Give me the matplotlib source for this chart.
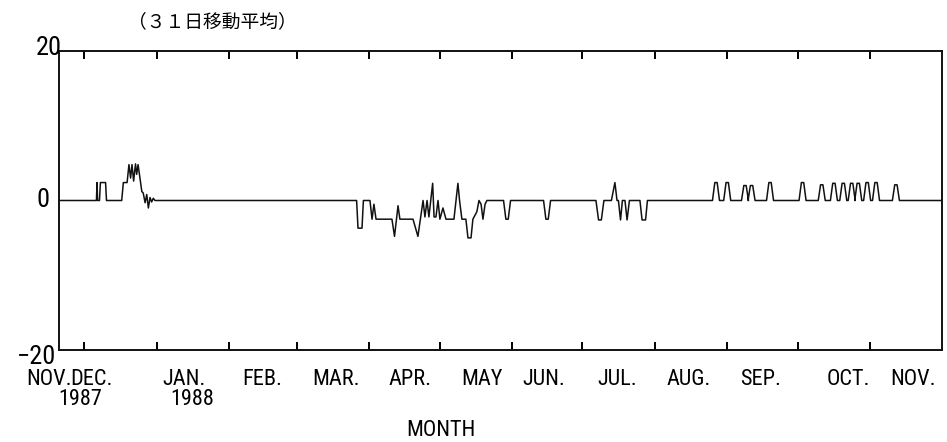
import matplotlib
matplotlib.use("Agg")
import matplotlib.pyplot as plt
import numpy as np

# x = days after 1 Dec 1987, y = 31-day moving average
# December cluster
dec_x = [5.3, 5.55, 5.8, 6.6, 7.0, 9.2, 9.6]
dec_y = [0, 2.4, 0, 0, 2.4, 2.4, 0]
decpk_x = [16.1, 16.8, 18.4, 19.2, 19.9, 20.5, 21.2, 22.0, 22.5, 23.1,
           24.7, 25.3, 26.1, 26.8, 27.5, 28.2, 28.9, 29.6, 30.3]
decpk_y = [0, 2.4, 2.4, 4.8, 3.0, 4.8, 2.6, 4.9, 3.5, 4.8,
           1.2, 1.0, -0.3, 0.8, -1.0, 0.4, -0.2, 0.3, 0]
# March - May cluster
spring_x = [113.7, 116.5, 117.1, 118.8, 119.4, 122.2, 123.1, 123.9, 124.8, 131.6,
            132.7, 134.2, 135.0, 140.6, 142.7, 144.9, 145.7, 146.6, 147.4, 149.0,
            149.6, 150.4, 151.3, 152.1, 153.4, 154.7, 158.1, 159.0, 159.8, 160.5,
            161.5, 163.2, 164.1, 165.4, 166.2, 167.9, 168.8, 169.7, 170.5, 171.4, 172.2]
spring_y = [0, 0, -3.7, -3.7, 0, 0, -2.5, -0.5, -2.5, -2.5,
            -4.8, -0.7, -2.5, -2.5, -4.8, 0, -2.2, 0, -2.2, 2.3,
            -2.2, -2.2, 0, -2.5, -1.0, -2.5, -2.5, 0, 2.3, 0,
            -2.5, -2.5, -5.0, -5.0, -2.5, -1.5, 0, -0.5, -2.5, -0.5, 0]
# July cluster
jul_x = [218.8, 219.9, 221.1, 222.2, 225.4, 226.9, 227.8, 228.4, 229.3,
         230.1, 231.2, 232.1, 233.1, 237.6, 238.5, 240.0, 240.8]
jul_y = [0, -2.6, -2.6, 0, 0, 2.4, 0, 0, -2.6,
         0, 0, -2.6, 0, 0, -2.6, -2.6, 0]
# single pulses (centre day, height)
pulse_day = [180.8, 197.9, 270.1, 274.9, 282.5, 285.3, 293.2, 307.1, 315.3,
             320.5, 324.5, 328.1, 330.9, 334.7, 338.5, 347.0]
pulse_val = [-2.5, -2.5, 2.4, 2.4, 2.0, 2.0, 2.4, 2.4, 2.1,
             2.3, 2.3, 2.3, 2.3, 2.4, 2.4, 2.1]

month_names = ["NOV.", "DEC.", "JAN.", "FEB.", "MAR.", "APR.", "MAY", "JUN.",
               "JUL.", "AUG.", "SEP.", "OCT.", "NOV."]
month_label_day = [-15.0, 3.0, 42.7, 76.1, 107.7, 139.3, 170.1, 196.6,
                   227.8, 258.5, 289.3, 326.5, 354.3]
month_start_day = [0, 31, 62, 91, 122, 152, 183, 213, 244, 275, 305, 336]

X0, X1 = -10.7, 366.7


def pulse(c, h, wb=3.0, wt=1.0):
    return [c - wb / 2, c - wt / 2, c + wt / 2, c + wb / 2], [0, h, h, 0]


pieces = [(dec_x, dec_y), (decpk_x, decpk_y), (spring_x, spring_y), (jul_x, jul_y)]
for c, h in zip(pulse_day, pulse_val):
    pieces.append(pulse(c, h))
pieces.sort(key=lambda p: p[0][0])

xs, ys = [X0], [0]
for px_, py_ in pieces:
    xs += list(px_)
    ys += list(py_)
xs.append(X1)
ys.append(0)

plt.rcParams['font.family'] = ['Roboto Condensed', 'DejaVu Sans']
plt.rcParams['font.stretch'] = 'condensed'
FS = 16

fig = plt.figure(figsize=(9.47, 4.42), dpi=100)
ax = fig.add_axes([59 / 947, 1 - 350 / 442, 883 / 947, 299 / 442])
ax.plot(xs, ys, color='#111111', lw=1.1)

ax.set_xlim(X0, X1)
ax.set_ylim(-20, 20)
for s in ax.spines.values():
    s.set_linewidth(1.4)
    s.set_color('#111111')
ax.set_yticks([])
ax.set_xticks(month_start_day)
ax.set_xticklabels([])
ax.tick_params(axis='x', direction='in', length=6, width=1.4, top=True, bottom=True)

tr = ax.get_xaxis_transform()
for name, d in zip(month_names, month_label_day):
    ax.text(d, -0.097, name, transform=tr, ha='center', va='center', fontsize=FS)
ax.text(-1.7, -0.165, "1987", transform=tr, ha='center', va='center', fontsize=FS)
ax.text(46.2, -0.165, "1988", transform=tr, ha='center', va='center', fontsize=FS)

fig.text(441 / 947, 1 - 430 / 442, "MONTH", ha='center', va='center', fontsize=FS)
fig.text(62 / 947, 1 - 48 / 442, "20", ha='right', va='center', fontsize=FS + 3)
fig.text(49 / 947, 1 - 200 / 442, "0", ha='right', va='center', fontsize=FS + 3)
fig.text(56 / 947, 1 - 357 / 442, "\u221220", ha='right', va='center', fontsize=FS + 3)

fig.text(212 / 947, 1 - 22 / 442, "（３１日移動平均）", ha='center', va='center',
         fontsize=13.5, family=['Noto Sans CJK JP', 'DejaVu Sans'])

fig.savefig("out.png", dpi=100)
